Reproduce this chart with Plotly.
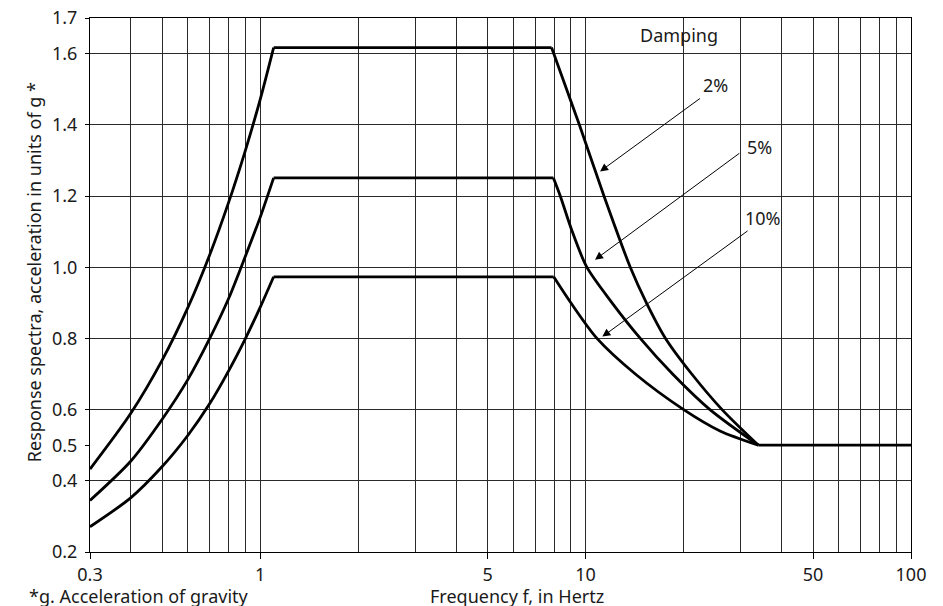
import math
import plotly.graph_objects as go

# ---- data ----
freq_rise = [0.3, 0.4, 0.5, 0.6, 0.7, 0.8, 0.9, 1.0, 1.1]
acc_rise_2 = [0.433, 0.589, 0.739, 0.887, 1.035, 1.182, 1.327, 1.471, 1.617]
acc_rise_5 = [0.345, 0.455, 0.573, 0.685, 0.80, 0.912, 1.03, 1.14, 1.251]
acc_rise_10 = [0.271, 0.352, 0.440, 0.528, 0.617, 0.709, 0.799, 0.887, 0.973]

freq_fall_2 = [7.86, 9.57, 11.39, 13.72, 15.38, 17.61, 21.2, 26.27, 33.96]
acc_fall_2 = [1.617, 1.4, 1.2, 1.0, 0.9, 0.8, 0.7, 0.6, 0.5]
freq_fall_5 = [7.96, 8.36, 9.10, 10.09, 12.06, 14.73, 18.51, 24.11, 33.96]
acc_fall_5 = [1.251, 1.2, 1.1, 1.0, 0.9, 0.8, 0.7, 0.6, 0.5]
freq_fall_10 = [7.98, 9.01, 10.84, 14.22, 20.02, 25.89, 33.96]
acc_fall_10 = [0.973, 0.9, 0.8, 0.7, 0.6, 0.54, 0.5]

freq_tail = [33.96, 100]
acc_tail = [0.5, 0.5]

x_tick_vals = [0.3, 1, 5, 10, 50, 100]
x_tick_text = ["0.3", "1", "5", "10", "50", "100"]
x_grid_vals = [0.4, 0.5, 0.6, 0.7, 0.8, 0.9, 2, 3, 4, 6, 7, 8, 9,
               20, 30, 40, 60, 70, 80, 90]
y_tick_vals = [0.2, 0.4, 0.5, 0.6, 0.8, 1.0, 1.2, 1.4, 1.6, 1.7]
y_tick_text = ["0.2", "0.4", "0.5", "0.6", "0.8", "1.0", "1.2", "1.4", "1.6", "1.7"]
y_grid_vals = [0.4, 0.6, 0.8, 1.0, 1.2, 1.4, 1.6]

FONT = "Noto Sans"
TXT = "#1a1a1a"
FS = 18
LW = 2.8

fig = go.Figure()

def add(x, y, shape="linear"):
    fig.add_trace(go.Scatter(x=x, y=y, mode="lines", showlegend=False,
                             line=dict(color="black", width=LW, shape=shape,
                                       smoothing=0.8),
                             hoverinfo="skip"))

for rise, fx, fy in [(acc_rise_2, freq_fall_2, acc_fall_2),
                     (acc_rise_5, freq_fall_5, acc_fall_5),
                     (acc_rise_10, freq_fall_10, acc_fall_10)]:
    add(freq_rise, rise, "spline")
    add([freq_rise[-1], fx[0]], [rise[-1], fy[0]])
    add(fx, fy, "spline")
add(freq_tail, acc_tail)

lg = math.log10
annotations = [
    dict(x=lg(19.3), y=1.653, text="Damping", showarrow=False,
         xref="x", yref="y", font=dict(size=FS, color=TXT, family=FONT)),
]
# (label, text_f, text_v, tail_f, tail_v, head_f, head_v)
arrows = [
    ("2%", 25.0, 1.513, 22.7, 1.477, 11.08, 1.269),
    ("5%", 34.2, 1.338, 30.0, 1.323, 10.69, 1.021),
    ("10%", 35.2, 1.139, 31.8, 1.105, 11.26, 0.805),
]
for lab, tf, tv, af, av, hf, hv in arrows:
    annotations.append(dict(x=lg(tf), y=tv, text=lab, showarrow=False,
                            xref="x", yref="y",
                            font=dict(size=FS, color=TXT, family=FONT)))
    annotations.append(dict(x=lg(hf), y=hv, ax=lg(af), ay=av, text="",
                            xref="x", yref="y", axref="x", ayref="y",
                            showarrow=True, arrowhead=2, arrowsize=1.6,
                            arrowwidth=1, arrowcolor="black"))

annotations += [
    dict(x=0.52, y=0, xref="paper", yref="paper", yanchor="middle",
         yshift=-44, text="Frequency f, in Hertz", showarrow=False,
         borderpad=0, font=dict(size=FS, color=TXT, family=FONT)),
    dict(x=-0.0755, y=0, xref="paper", yref="paper", xanchor="left",
         yanchor="middle", yshift=-44, text="*g. Acceleration of gravity",
         showarrow=False, borderpad=0,
         font=dict(size=FS, color=TXT, family=FONT)),
    dict(x=-0.0853, y=0.524, xref="paper", yref="paper", textangle=-90,
         text="Response spectra, acceleration in units of g *",
         showarrow=False, font=dict(size=FS, color=TXT, family=FONT)),
]

GRID = "#2a2a2a"
fig.update_layout(
    width=935, height=598,
    margin=dict(l=82, r=32, t=10, b=54, autoexpand=False),
    paper_bgcolor="white", plot_bgcolor="white",
    font=dict(family=FONT, size=FS, color=TXT),
    annotations=annotations,
    xaxis=dict(type="log", range=[lg(0.3), lg(100)], automargin=False,
               tickmode="array", tickvals=x_tick_vals, ticktext=x_tick_text,
               ticks="outside", ticklen=6, tickcolor="black",
               ticklabeloverflow="allow",
               showgrid=True, gridcolor=GRID, gridwidth=1,
               minor=dict(tickmode="array", tickvals=x_grid_vals,
                          showgrid=True, gridcolor=GRID, gridwidth=1,
                          ticks=""),
               showline=True, linecolor="black", linewidth=1, mirror=True,
               zeroline=False, tickfont=dict(size=FS, color=TXT)),
    yaxis=dict(range=[0.2, 1.7], automargin=False,
               tickmode="array", tickvals=y_tick_vals, ticktext=y_tick_text,
               ticks="outside", ticklen=4, tickcolor="black",
               ticklabelstandoff=4, ticklabeloverflow="allow",
               showgrid=False,
               minor=dict(tickmode="array", tickvals=y_grid_vals,
                          showgrid=True, gridcolor=GRID, gridwidth=1,
                          ticks=""),
               showline=True, linecolor="black", linewidth=1, mirror=True,
               zeroline=False, tickfont=dict(size=FS, color=TXT)),
)

fig.write_html("out.html")
